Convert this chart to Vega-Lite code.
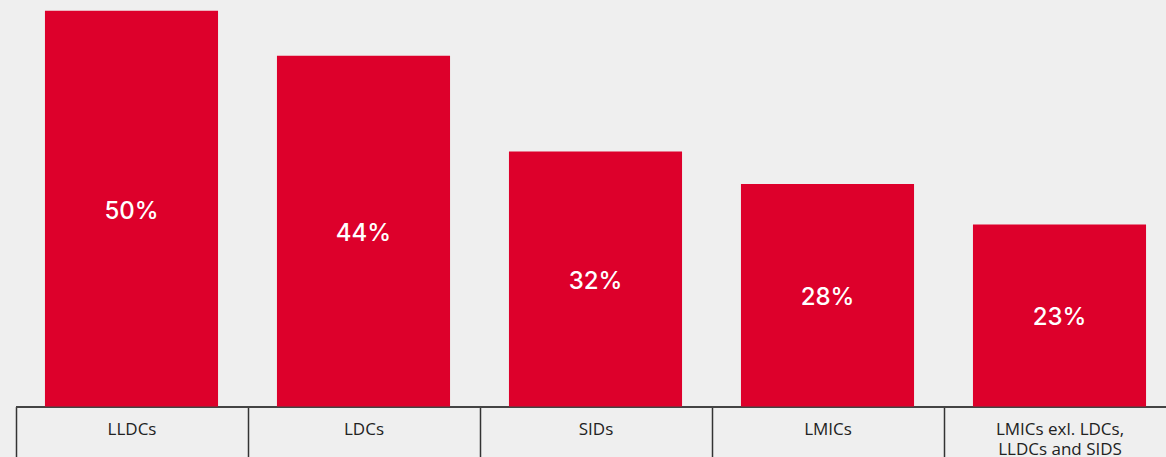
{
  "$schema": "https://vega.github.io/schema/vega-lite/v6.json",
  "width": 1166,
  "height": 406.5,
  "autosize": {"type": "none"},
  "padding": {"top": 0, "left": 0, "right": 0, "bottom": 50.5},
  "background": "#efefef",
  "config": {"view": {"stroke": null}, "font": "Inter"},
  "data": {"values": [
    {"group": "LLDCs", "value": 0.5},
    {"group": "LDCs", "value": 0.443},
    {"group": "SIDs", "value": 0.322},
    {"group": "LMICs", "value": 0.281},
    {"group": "LMICs exl. LDCs, LLDCs and SIDS", "value": 0.23}
  ]},
  "encoding": {
    "x": {
      "field": "group", "type": "nominal", "sort": null,
      "scale": {"range": [15.5, 1175.5], "paddingInner": 0, "paddingOuter": 0},
      "axis": {
        "title": null, "labelAngle": 0, "tickBand": "extent", "tickSize": 52,
        "tickColor": "#333333", "tickWidth": 1.5, "domainColor": "#444444", "domainWidth": 2,
        "labelPadding": -37, "labelBaseline": "top", "labelFontSize": 17, "labelColor": "#222222",
        "labelFont": "Open Sans", "labelFontWeight": 400, "labelLineHeight": 19.5,
        "labelExpr": "datum.value == 'LMICs exl. LDCs, LLDCs and SIDS' ? ['LMICs exl. LDCs,', 'LLDCs and SIDS'] : datum.value"
      }
    }
  },
  "layer": [
    {
      "mark": {"type": "bar", "color": "#dd002b", "width": {"band": 0.746}},
      "encoding": {
        "y": {"field": "value", "type": "quantitative", "scale": {"domain": [0, 0.5135], "nice": false}, "axis": null}
      }
    },
    {
      "transform": [{"calculate": "datum.value / 2", "as": "mid"}],
      "mark": {"type": "text", "color": "white", "fontSize": 24, "font": "Inter", "fontWeight": 500, "letterSpacing": 2, "baseline": "middle", "dy": 3},
      "encoding": {
        "y": {"field": "mid", "type": "quantitative", "scale": {"domain": [0, 0.5135], "nice": false}},
        "text": {"field": "value", "type": "quantitative", "format": ".0%"}
      }
    }
  ]
}
